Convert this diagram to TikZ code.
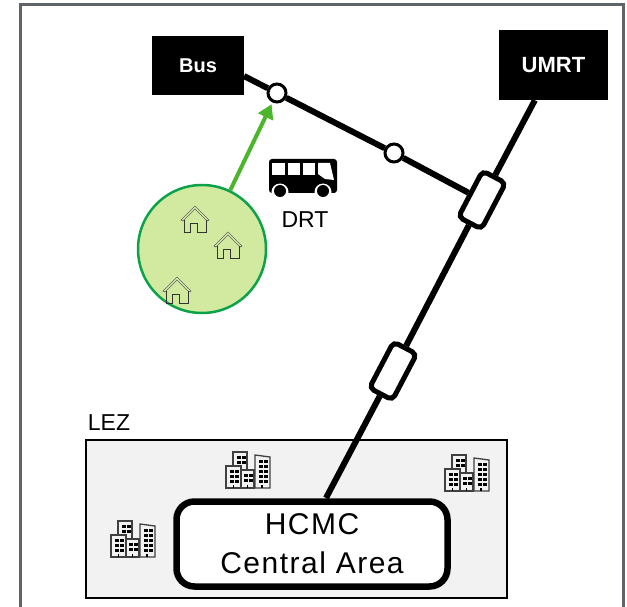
\documentclass[tikz,border=0pt]{standalone}
\usepackage{fontspec}
\setmainfont{Liberation Sans}
\newfontfamily\areafont[LetterSpace=5]{Liberation Sans}
\usetikzlibrary{arrows.meta}
\definecolor{framegray}{HTML}{606468}
\definecolor{zonefill}{HTML}{D2EAA0}
\definecolor{zoneline}{HTML}{0BA24A}
\definecolor{drtgreen}{HTML}{4DB52B}
\definecolor{lezfill}{HTML}{F2F2F2}

\begin{document}
\begin{tikzpicture}[x=1pt, y=-1pt]
        \tikzset{terminal/.style={
            draw = none,
            fill = black,
            text = white,
            font = \fontsize{#1}{#1}\selectfont\bfseries,
            inner sep = 0,
        }}
        \tikzset{stopnode/.style={
            draw,
            line width = 3pt,
            fill = white,
            circle,
            minimum size = 18pt,
            inner sep = 0,
        }}
        \tikzset{station/.style={
            draw,
            line width = 5pt,
            fill = white,
            rounded corners = 5pt,
            minimum width = 52pt,
            minimum height = 26pt,
            rotate = 62.3,
            inner sep = 0,
        }}
        \tikzset{railline/.style={
            line width = 6pt,
        }}
        \tikzset{label/.style={
            font = \fontsize{23}{23}\selectfont,
            inner sep = 0,
        }}
        \tikzset{pics/house/.style={code={
            \draw[black!60, line width = 0.7pt] (-14, 1) -- (0, -13) -- (14, 1) -- (12, 2) -- (0, -10) -- (-12, 2) -- cycle;
            \draw[black!80, line width = 0.8pt] (-11, 1) -- (-11, 13) -- (-5, 13) -- (-5, 4) -- (2, 4) -- (2, 13) -- (11, 13) -- (11, 1);
        }}}
        \tikzset{pics/buildings/.style={code={
            \draw[black!75, fill = lezfill, line width = 1.3pt] (7, -22) -- (7, -36) -- (21, -36) -- (21, -18) -- (15, -18) -- (15, -22) -- cycle;
            \draw[black!75, fill = lezfill, line width = 1.3pt] (0, 0) rectangle (15, -22);
            \draw[black!75, fill = lezfill, line width = 1.3pt] (15, 0) rectangle (28, -18);
            \draw[black!75, fill = lezfill, line width = 1.3pt] (29, 0) -- (29, -33) -- (44, -31) -- (44, 0) -- cycle;
            \foreach \wx in {4, 9} \foreach \wy in {-15, -10, -5} \fill (\wx, \wy) rectangle ++(3.5, -3.5);
            \foreach \wx in {11, 16} \foreach \wy in {-29, -24} \fill (\wx, \wy) rectangle ++(3.5, -3.5);
            \foreach \wx in {18, 23} \foreach \wy in {-11, -6} \fill (\wx, \wy) rectangle ++(3.5, -3.5);
            \foreach \wx in {33, 38} \foreach \wy in {-25, -20, -15, -10, -5} \fill (\wx, \wy) rectangle ++(3.5, -3.5);
            \foreach \wx in {7.5, 21.5, 36} \draw[line width = 1.3pt] (\wx, 0) -- (\wx, -3);
        }}}
        \useasboundingbox (0, 0) rectangle (627, 607);

        \draw[framegray, line width = 3pt] (20, 607) -- (20, 5) -- (623, 5) -- (623, 607);

        % low emission zone
        \node[draw, fill = lezfill, line width = 2.5pt, minimum width = 421pt, minimum height = 158pt, inner sep = 0] (lez) at (296.5, 519) {};
        \node[label] (lezlabel) at (109, 423) {LEZ};
        \node[draw, fill = white, line width = 6.5pt, rounded corners = 18pt, minimum width = 271pt, minimum height = 85pt, inner sep = 0, align = center, font = \fontsize{30}{39}\selectfont\areafont] (hcmc) at (312, 544) {HCMC\\Central Area};
        \coordinate (hcmcin) at (326, 498);
        \pic at (111, 557) {buildings};
        \pic at (226, 488) {buildings};
        \pic at (445, 491) {buildings};

        % terminals and stops
        \node[terminal = 20, minimum width = 92pt, minimum height = 59pt] (bus) at (198, 65.5) {Bus};
        \node[terminal = 22, minimum width = 109pt, minimum height = 70pt] (umrt) at (553.5, 65) {UMRT};
        \coordinate (busout) at (244, 76);
        \node[stopnode] (stopa) at (277, 93) {};
        \node[stopnode] (stopb) at (394, 153) {};
        \node[station] (stationa) at (482, 200) {};
        \node[station] (stationb) at (393, 371) {};

        \draw[railline] (busout) -- (stopa);
        \draw[railline] (stopa) -- (stopb);
        \draw[railline] (stopb) -- (stationa);
        \draw[railline] (umrt) -- (stationa);
        \draw[railline] (stationa) -- (stationb);
        \draw[railline] (stationb) -- (hcmcin);

        % demand responsive area
        \node[draw = zoneline, fill = zonefill, line width = 2.5pt, circle, minimum size = 128pt, inner sep = 0] (zone) at (202, 249) {};
        \draw[drtgreen, line width = 4pt, -{Triangle[length = 14pt, width = 16pt]}, shorten > = 2pt] (zone) -- (stopa);
        \pic at (195, 219) {house};
        \pic at (228, 245) {house};
        \pic at (177, 290) {house};

        % minibus
        \fill[rounded corners = 3pt] (269, 159) rectangle (337, 193);
        \fill[white] (272, 163) rectangle (285, 175);
        \fill[white] (288, 163) rectangle (300, 175);
        \fill[white] (303, 163) rectangle (315, 175);
        \fill[white] (318, 163) -- (330, 163) -- (334, 180) -- (325, 179) -- (318, 174) -- cycle;
        \foreach \wx in {280, 323} {
            \fill[white] (\wx, 192) circle (8.5pt);
            \fill (\wx, 191) circle (6pt);
        }
        \node[label] (drt) at (305, 220) {DRT};
\end{tikzpicture}
\end{document}
